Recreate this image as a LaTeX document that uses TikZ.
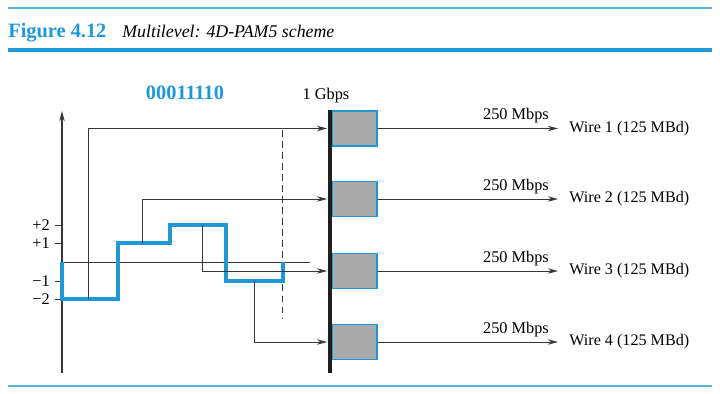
\documentclass[tikz,border=0pt]{standalone}
\usepackage{fontspec}
\setmainfont{Liberation Serif}
\usetikzlibrary{arrows.meta,positioning}

\definecolor{pamblue}{RGB}{30,152,214}
\definecolor{boxgray}{RGB}{170,170,170}
\definecolor{linegray}{RGB}{55,55,55}

\tikzset{
    sig/.style = {pamblue, line width=1.8pt},
    feed/.style = {linegray, line width=0.5pt, -{Stealth[length=6pt,width=3.2pt]}},
    encbox/.style = {draw=pamblue, fill=boxgray, line width=0.9pt, minimum width=26.5pt, minimum height=20.8pt, inner sep=0pt},
    lbl/.style = {font=\fontsize{9.6}{11}\selectfont, inner sep=0pt, text=black},
    wirelbl/.style = {font=\fontsize{9.5}{11}\selectfont, anchor=west, inner xsep=6.5pt, inner ysep=0pt, text=black},
}

\begin{document}
\begin{tikzpicture}[x=0.589pt, y=-0.589pt]
        \useasboundingbox (0,0) rectangle (720,394);

        % Caption and rules
        \draw[pamblue!75, line width=0.6pt] (8,8) -- (712,8);
        \node[anchor=base west, inner sep=0pt, text=pamblue, font=\bfseries\fontsize{12}{14}\selectfont] (fig) at (8,38) {Figure 4.12};
        \node[anchor=base west, inner sep=0pt, font=\itshape\fontsize{10.5}{12}\selectfont] (cap) at (122,38) {Multilevel: 4D-PAM5 scheme};
        \draw[pamblue, line width=1.8pt] (8,50) -- (712,50);
        \draw[pamblue!75, line width=0.6pt] (8,386) -- (712,386);

        % Axis, levels and zero line
        \draw[linegray, line width=0.6pt, -{Stealth[length=6pt,width=3.2pt]}] (62,373) -- (62,111);
        \foreach \lv/\y [count=\i] in {+2/225, +1/243, −1/281, −2/299} {
            \draw[linegray, line width=0.5pt] (55,\y) -- (62,\y);
            \node[lbl, anchor=east] (lev\i) at (50,\y) {\lv};
        }
        \draw[linegray, line width=0.5pt] (62,262) -- (310,262);
        \draw[linegray, line width=0.5pt, dash pattern=on 4pt off 2.5pt] (282,130) -- (282,318);

        % Signal
        \draw[sig] (62,262) -- (62,299) -- (118,299) -- (118,243) -- (170,243)
            -- (170,225) -- (226,225) -- (226,281) -- (283,281) -- (283,262);
        \node[anchor=base, text=pamblue, font=\bfseries\fontsize{12}{14}\selectfont] (bits) at (185,100) {00011110};

        % Sample points
        \coordinate (s1) at (88,299);
        \coordinate (s2) at (142,243);
        \coordinate (s3) at (202,225);
        \coordinate (s4) at (254,281);

        % Encoders
        \node[encbox] (box1) at (354.5,128.5) {};
        \node[encbox] (box2) at (354.5,199) {};
        \node[encbox] (box3) at (354.5,271) {};
        \node[encbox] (box4) at (354.5,342) {};

        \coordinate (bartop) at (330,110);
        \coordinate (barbot) at (330,373);
        \draw[black!88, line width=2.4pt] (bartop) -- (barbot);
        \node[lbl, anchor=base] (rate) at (326,100) {1 Gbps};

        % Feeds into encoders
        \foreach \i in {1,...,4} {
            \draw[feed, shorten >=2.4pt] (s\i) |- (box\i);
        }

        % Wires
        \foreach \i/\y in {1/128.5, 2/199, 3/271, 4/342} {
            \node[wirelbl] (wire\i) at (558,\y) {Wire \i{} (125 MBd)};
            \draw[feed] (box\i) -- (wire\i) node[lbl, pos=0.767, above, inner sep=3pt] (mbps\i) {250 Mbps};
        }

\end{tikzpicture}
\end{document}
